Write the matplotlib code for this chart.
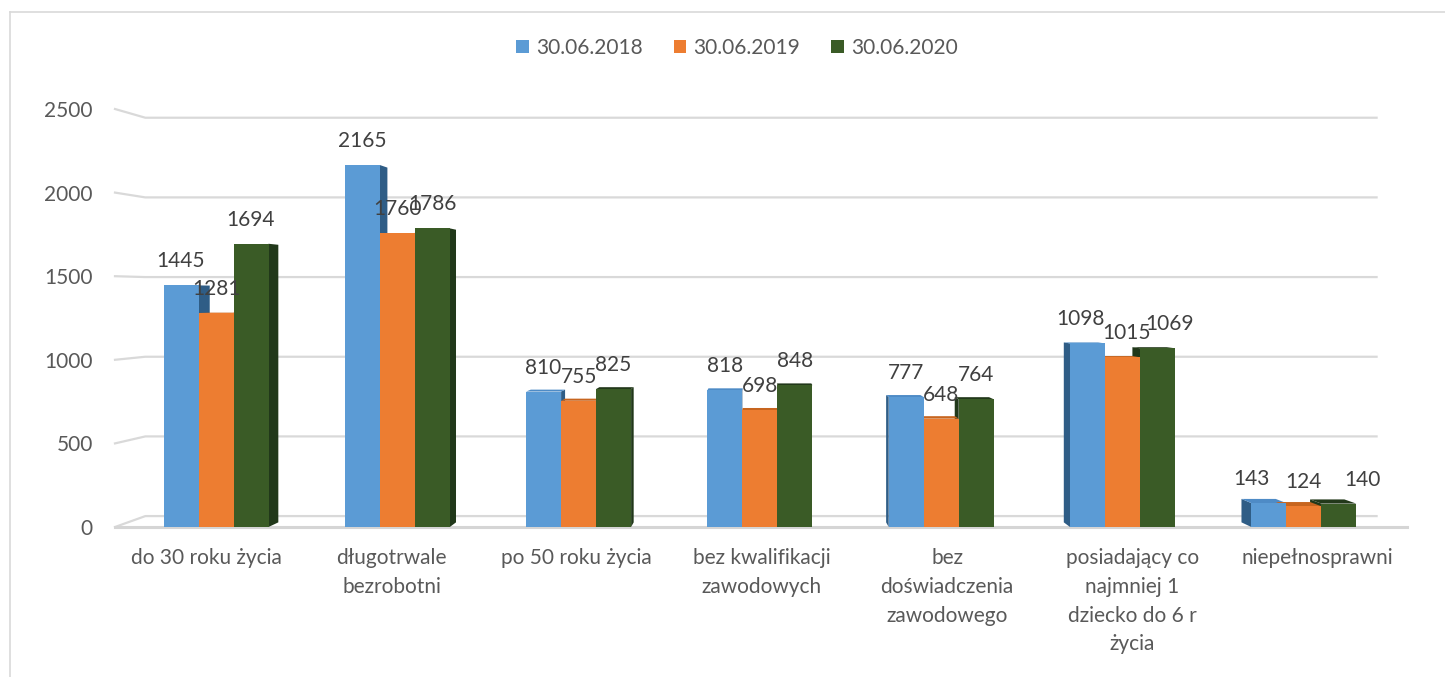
import matplotlib
matplotlib.use("Agg")
import matplotlib.pyplot as plt
from matplotlib.patches import Polygon, Patch
from matplotlib.lines import Line2D
import numpy as np

# ---------------- data ----------------
categories = ["do 30 roku życia", "długotrwale\nbezrobotni", "po 50 roku życia",
              "bez kwalifikacji\nzawodowych", "bez\ndoświadczenia\nzawodowego",
              "posiadający co\nnajmniej 1\ndziecko do 6 r\nżycia", "niepełnosprawni"]
series_names = ["30.06.2018", "30.06.2019", "30.06.2020"]
values_2018 = [1445, 2165, 810, 818, 777, 1098, 143]
values_2019 = [1281, 1760, 755, 698, 648, 1015, 124]
values_2020 = [1694, 1786, 825, 848, 764, 1069, 140]
y_ticks = [0, 500, 1000, 1500, 2000, 2500]

# ---------------- style ----------------
front_colors = ["#5B9BD5", "#ED7D31", "#3A5B26"]
side_colors = ["#2F5D86", "#B05A1E", "#21381A"]
top_colors = ["#4E8BC6", "#C7651F", "#22381A"]
# small horizontal label nudges (pixels) mimicking Excel 3D label placement
label_dx = [[0, 0, 0], [0, 0, 0], [0, 0, 0], [0, 0, 0], [0, 0, 0],
            [-7, 4, 12], [-17, 0, 24]]

FONT = "Lato"
plt.rcParams["font.family"] = [FONT, "DejaVu Sans"]

W, H = 1445, 677
fig = plt.figure(figsize=(W / 100, H / 100), dpi=100)
fig.patch.set_facecolor("white")

# axes geometry in pixels
ax_l, ax_r, ax_b, ax_t = 115, 1407, 527, 109
ax = fig.add_axes([ax_l / W, (H - ax_b) / H, (ax_r - ax_l) / W, (ax_b - ax_t) / H])
ax.set_facecolor("none")

grp0_px, grp_step = 216, 181.3
xl = (ax_l - grp0_px) / grp_step
xr = (ax_r - grp0_px) / grp_step
ax.set_xlim(xl, xr)
ax.set_ylim(0, 2500)
for s in ax.spines.values():
    s.set_visible(False)

# perspective helpers (homothety towards vanishing point, in data coords)
VP = (3.0, 1389.0)
def back(p, k):
    return (p[0] + k * (VP[0] - p[0]), p[1] + k * (VP[1] - p[1]))

# gridlines (back wall) with left diagonal
k_wall = 0.047
for v in y_ticks:
    f = (xl, v)
    bl = back((xl, v), k_wall)
    br = back((xr, v), k_wall)
    ax.add_line(Line2D([f[0], bl[0], br[0]], [f[1], bl[1], br[1]],
                       color="#D9D9D9", lw=1.6, clip_on=False, zorder=1))
# floor front edge
ax.add_line(Line2D([xl, xr], [0, 0], color="#D5D5D5", lw=2.2, clip_on=False, zorder=1))

# bars
bw = 35 / grp_step
k_bar = 0.02
all_vals = [values_2018, values_2019, values_2020]
x = np.arange(len(categories))
for s, vals in enumerate(all_vals):
    offs = (s - 1) * bw
    bars = ax.bar(x + offs, vals, width=bw, color=front_colors[s], zorder=4,
                  linewidth=0, label=series_names[s])
    for i, (rect, v) in enumerate(zip(bars, vals)):
        x0 = rect.get_x()
        x1 = x0 + rect.get_width()
        h = rect.get_height()
        # side face
        if x1 <= VP[0]:
            xe = x1
        else:
            xe = x0
        pts = [(xe, 0), (xe, h), back((xe, h), k_bar), back((xe, 0), k_bar)]
        ax.add_patch(Polygon(pts, closed=True, facecolor=side_colors[s],
                             edgecolor="none", zorder=2))
        # top face
        if h < VP[1]:
            pts = [(x0, h), (x1, h), back((x1, h), k_bar), back((x0, h), k_bar)]
            ax.add_patch(Polygon(pts, closed=True, facecolor=top_colors[s],
                                 edgecolor="none", zorder=3))
        # value label
        ax.annotate(f"{v}", xy=(x0 + bw / 2, h), xytext=(label_dx[i][s], 24),
                    textcoords="offset pixels", ha="center", va="center",
                    fontsize=15, color="#404040", zorder=6)

# y tick labels
ax.set_yticks(y_ticks)
ax.set_yticklabels([str(t) for t in y_ticks])
ax.tick_params(axis="y", length=0, pad=16, labelsize=15, labelcolor="#595959")
ax.set_xticks([])

# category labels
xtr = ax.get_xaxis_transform()
lab_y = -(548 - ax_b) / (ax_b - ax_t)
for i, c in enumerate(categories):
    off = ((i - 3) * 3.8 + 2) / grp_step
    ax.text(i + off, lab_y, c, transform=xtr, ha="center", va="top",
            fontsize=15, color="#595959", linespacing=1.55)

# legend
handles = [Patch(facecolor=front_colors[s], edgecolor="none") for s in range(3)]
fig.legend(handles, series_names, loc="center", bbox_to_anchor=(737 / W, 1 - 48 / H),
           ncol=3, frameon=False, fontsize=15, handlelength=0.6, handleheight=0.6,
           handletextpad=0.35, columnspacing=1.5, labelcolor="#595959")

# outer chart frame (partially cropped)
fig.add_artist(Line2D([10 / W, 10 / W], [0, 1 - 12 / H], color="#D9D9D9", lw=1.2))
fig.add_artist(Line2D([10 / W, 1], [1 - 12 / H, 1 - 12 / H], color="#D9D9D9", lw=1.2))

fig.savefig("out.png", dpi=100)
